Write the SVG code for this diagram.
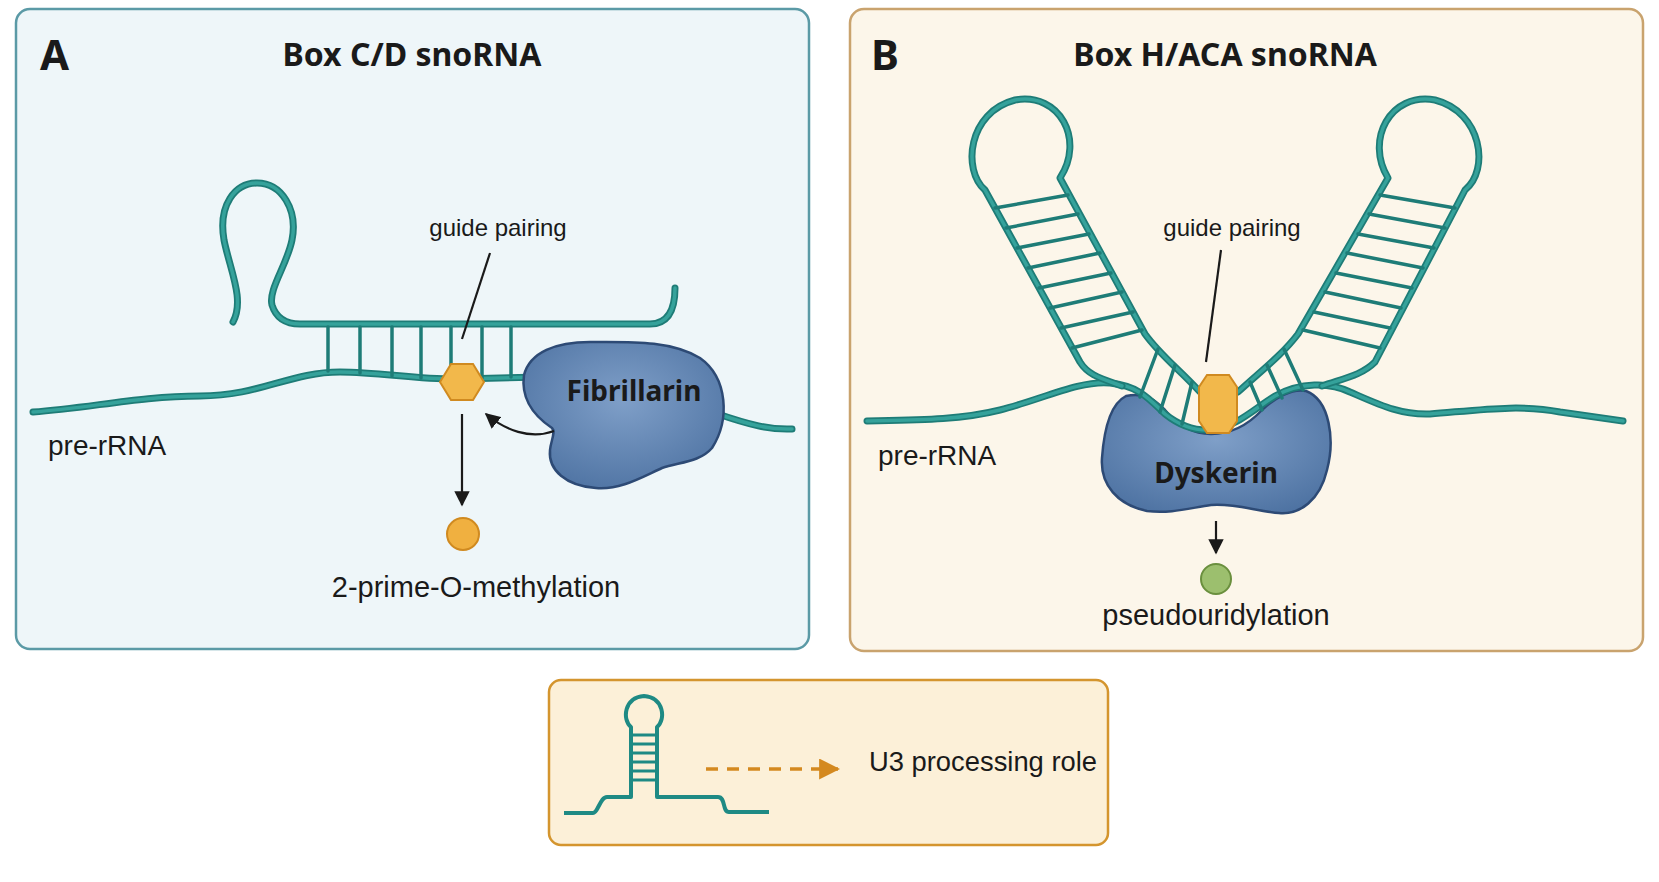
<svg xmlns="http://www.w3.org/2000/svg" width="1659" height="882" viewBox="0 0 1659 882">
<defs>
<style>
.t{font-family:"Liberation Sans Narrow","Liberation Sans",sans-serif;fill:#1a1a1a}
.h{font-family:"Noto Sans","Liberation Sans",sans-serif;font-weight:bold;fill:#1a1a1a}
.rna{fill:none;stroke:#1e7c77;stroke-width:7;stroke-linecap:round;stroke-linejoin:round}
.rnai{fill:none;stroke:#35a29b;stroke-width:3.5;stroke-linecap:round;stroke-linejoin:round}
.rung{stroke:#1e7c77;stroke-width:3.5;stroke-linecap:round}
.blk{stroke:#1a1a1a;stroke-width:2.2;fill:none}
</style>
<marker id="ah" viewBox="0 0 10 10" refX="9" refY="5" markerWidth="7" markerHeight="7" orient="auto-start-reverse"><path d="M0,0 L10,5 L0,10 z" fill="#1a1a1a"/></marker>
<marker id="ao" viewBox="0 0 10 10" refX="9" refY="5" markerWidth="6" markerHeight="6" orient="auto"><path d="M0,0 L10,5 L0,10 z" fill="#d4891f"/></marker>
<radialGradient id="pg" cx="0.5" cy="0.4" r="0.7"><stop offset="0" stop-color="#7f9fc8"/><stop offset="1" stop-color="#4b70a0"/></radialGradient>
</defs>
<rect width="1659" height="882" fill="#ffffff"/>

<g id="panelA">
<rect x="16" y="9" width="793" height="640" rx="14" fill="#eef6f9" stroke="#5b9aa6" stroke-width="2.5"/>
<text x="40" y="70" class="h" font-size="42">A</text>
<text x="412" y="66" class="h" font-size="32" text-anchor="middle">Box C/D snoRNA</text>
<g id="A_rna">
<path class="rna" d="M33,412 C90,408 140,396 200,396 C260,396 290,372 340,372 C380,372 420,380 460,379 L540,377"/>
<path class="rnai" d="M33,412 C90,408 140,396 200,396 C260,396 290,372 340,372 C380,372 420,380 460,379 L540,377"/>
<path class="rna" d="M715,413 C750,425 770,430 792,429"/>
<path class="rnai" d="M715,413 C750,425 770,430 792,429"/>
<path class="rna" d="M233,322 C245,300 230,270 224,240 C218,205 235,183 257,183 C282,183 298,210 292,240 C287,265 268,290 272,305 C276,318 285,324 300,324 L650,324 C668,324 675,310 675,288"/>
<path class="rnai" d="M233,322 C245,300 230,270 224,240 C218,205 235,183 257,183 C282,183 298,210 292,240 C287,265 268,290 272,305 C276,318 285,324 300,324 L650,324 C668,324 675,310 675,288"/>
<line class="rung" x1="328" y1="327" x2="328" y2="371"/>
<line class="rung" x1="360" y1="327" x2="360" y2="373"/>
<line class="rung" x1="392" y1="327" x2="392" y2="376"/>
<line class="rung" x1="421" y1="327" x2="421" y2="378"/>
<line class="rung" x1="451" y1="327" x2="451" y2="378"/>
<line class="rung" x1="482" y1="327" x2="482" y2="378"/>
<line class="rung" x1="511" y1="327" x2="511" y2="377"/>
</g>
<g id="fibrillarin">
<path d="M524,375 C530,352 556,342 590,342 C630,342 670,340 700,358 C728,378 730,420 712,448 C700,462 680,462 662,468 C640,478 620,490 596,488 C566,486 548,470 550,450 C551,440 556,432 552,428 C540,420 520,404 524,375 Z" fill="url(#pg)" stroke="#2d4a75" stroke-width="2.5"/>
<text x="634" y="401" class="h" font-size="28" text-anchor="middle">Fibrillarin</text>
</g>
<g id="A_mod">
<polygon points="451,364 473,364 484,382 473,400 451,400 440,382" fill="#f2b84b" stroke="#d08a20" stroke-width="2"/>
<circle cx="463" cy="534" r="16" fill="#f0b040" stroke="#d08a20" stroke-width="2"/>
</g>
<g id="A_connectors">
<line class="blk" x1="490" y1="253" x2="462" y2="339"/>
<line class="blk" x1="462" y1="414" x2="462" y2="505" marker-end="url(#ah)"/>
<path class="blk" d="M554,431 C530,440 505,430 486,414" marker-end="url(#ah)"/>
</g>
<text x="498" y="236" class="t" font-size="24" text-anchor="middle">guide pairing</text>
<text x="48" y="455" class="t" font-size="28">pre-rRNA</text>
<text x="476" y="597" class="t" font-size="29" text-anchor="middle">2-prime-O-methylation</text>
</g>

<g id="panelB">
<rect x="850" y="9" width="793" height="642" rx="14" fill="#fcf6ea" stroke="#c9a36e" stroke-width="2.5"/>
<text x="871" y="70" class="h" font-size="42">B</text>
<text x="1225" y="66" class="h" font-size="32" text-anchor="middle">Box H/ACA snoRNA</text>
<g id="dyskerin">
<path d="M1126,396 C1145,392 1155,400 1165,410 C1180,428 1195,434 1211,434 C1230,434 1248,425 1262,410 C1275,398 1292,388 1306,391 C1330,400 1335,440 1327,470 C1320,500 1300,515 1279,513 C1255,511 1235,503 1211,505 C1190,508 1170,514 1147,511 C1118,505 1100,485 1102,458 C1104,430 1110,404 1126,396 Z" fill="url(#pg)" stroke="#2d4a75" stroke-width="2.5"/>
<text x="1216" y="483" class="h" font-size="28" text-anchor="middle">Dyskerin</text>
</g>
<g id="B_rna">
<path class="rna" d="M867,421 C920,420 960,420 1000,410 C1040,400 1080,380 1110,383 C1140,386 1150,400 1165,414 C1180,426 1195,431 1211,430 C1235,428 1255,408 1275,396 C1300,382 1330,382 1350,392 C1380,405 1400,415 1430,414 C1480,410 1520,404 1560,412 L1623,421"/>
<path class="rnai" d="M867,421 C920,420 960,420 1000,410 C1040,400 1080,380 1110,383 C1140,386 1150,400 1165,414 C1180,426 1195,431 1211,430 C1235,428 1255,408 1275,396 C1300,382 1330,382 1350,392 C1380,405 1400,415 1430,414 C1480,410 1520,404 1560,412 L1623,421"/>
<path class="rna" d="M1122,386 C1100,378 1088,375 1080,362 L985,190 C962,170 968,112 1015,100 C1060,92 1085,140 1060,178 L1145,334 C1160,355 1180,370 1200,392"/>
<path class="rnai" d="M1122,386 C1100,378 1088,375 1080,362 L985,190 C962,170 968,112 1015,100 C1060,92 1085,140 1060,178 L1145,334 C1160,355 1180,370 1200,392"/>
<path class="rna" d="M1322,386 C1345,378 1362,375 1375,362 L1465,190 C1490,170 1482,112 1435,100 C1390,92 1365,140 1388,178 L1298,334 C1282,355 1262,370 1238,392"/>
<path class="rnai" d="M1322,386 C1345,378 1362,375 1375,362 L1465,190 C1490,170 1482,112 1435,100 C1390,92 1365,140 1388,178 L1298,334 C1282,355 1262,370 1238,392"/>
<line class="rung" x1="995" y1="208" x2="1068" y2="195"/>
<line class="rung" x1="1006" y1="228" x2="1078" y2="214"/>
<line class="rung" x1="1017" y1="248" x2="1089" y2="234"/>
<line class="rung" x1="1028" y1="268" x2="1100" y2="253"/>
<line class="rung" x1="1039" y1="288" x2="1111" y2="273"/>
<line class="rung" x1="1050" y1="308" x2="1122" y2="292"/>
<line class="rung" x1="1061" y1="328" x2="1133" y2="312"/>
<line class="rung" x1="1072" y1="348" x2="1142" y2="330"/>
<line class="rung" x1="1455" y1="208" x2="1380" y2="195"/>
<line class="rung" x1="1445" y1="228" x2="1369" y2="214"/>
<line class="rung" x1="1434" y1="248" x2="1358" y2="234"/>
<line class="rung" x1="1423" y1="268" x2="1347" y2="253"/>
<line class="rung" x1="1412" y1="288" x2="1336" y2="273"/>
<line class="rung" x1="1401" y1="308" x2="1325" y2="292"/>
<line class="rung" x1="1390" y1="328" x2="1314" y2="312"/>
<line class="rung" x1="1380" y1="348" x2="1303" y2="330"/>
<line class="rung" x1="1158" y1="349" x2="1140" y2="397"/>
<line class="rung" x1="1175" y1="365" x2="1160" y2="412"/>
<line class="rung" x1="1192" y1="382" x2="1182" y2="424"/>
<line class="rung" x1="1284" y1="349" x2="1303" y2="390"/>
<line class="rung" x1="1267" y1="365" x2="1282" y2="398"/>
<line class="rung" x1="1250" y1="382" x2="1262" y2="410"/>
</g>
<g id="B_mod">
<polygon points="1207,375 1229,375 1237,387 1237,421 1229,433 1207,433 1199,421 1199,387" fill="#f2b84b" stroke="#d08a20" stroke-width="2"/>
<circle cx="1216" cy="579" r="15" fill="#9cbf6e" stroke="#6a8f3e" stroke-width="2"/>
</g>
<g id="B_connectors">
<line class="blk" x1="1221" y1="250" x2="1206" y2="362"/>
<line class="blk" x1="1216" y1="521" x2="1216" y2="553" marker-end="url(#ah)"/>
</g>
<text x="1232" y="236" class="t" font-size="24" text-anchor="middle">guide pairing</text>
<text x="878" y="465" class="t" font-size="28">pre-rRNA</text>
<text x="1216" y="625" class="t" font-size="29" text-anchor="middle">pseudouridylation</text>
</g>

<g id="legend">
<rect x="549" y="680" width="559" height="165" rx="12" fill="#fcf0d8" stroke="#d4952e" stroke-width="2.5"/>
<path d="M564,813 L593,813 C598,813 600,797 607,797 L631,797 L631,727 C622,720 624,697 644,696 C664,697 666,720 657,727 L657,797 L718,797 C726,797 722,812 729,812 L769,812" fill="none" stroke="#1e8a84" stroke-width="4" stroke-linejoin="round"/>
<g stroke="#1e8a84" stroke-width="3">
<line x1="631" y1="735" x2="657" y2="735"/><line x1="631" y1="744" x2="657" y2="744"/><line x1="631" y1="753" x2="657" y2="753"/><line x1="631" y1="762" x2="657" y2="762"/><line x1="631" y1="771" x2="657" y2="771"/><line x1="631" y1="780" x2="657" y2="780"/>
</g>
<line x1="706" y1="769" x2="838" y2="769" stroke="#d4891f" stroke-width="3.5" stroke-dasharray="12,9" marker-end="url(#ao)"/>
<text x="869" y="771" class="t" font-size="28" textLength="228" lengthAdjust="spacingAndGlyphs">U3 processing role</text>
</g>
</svg>
